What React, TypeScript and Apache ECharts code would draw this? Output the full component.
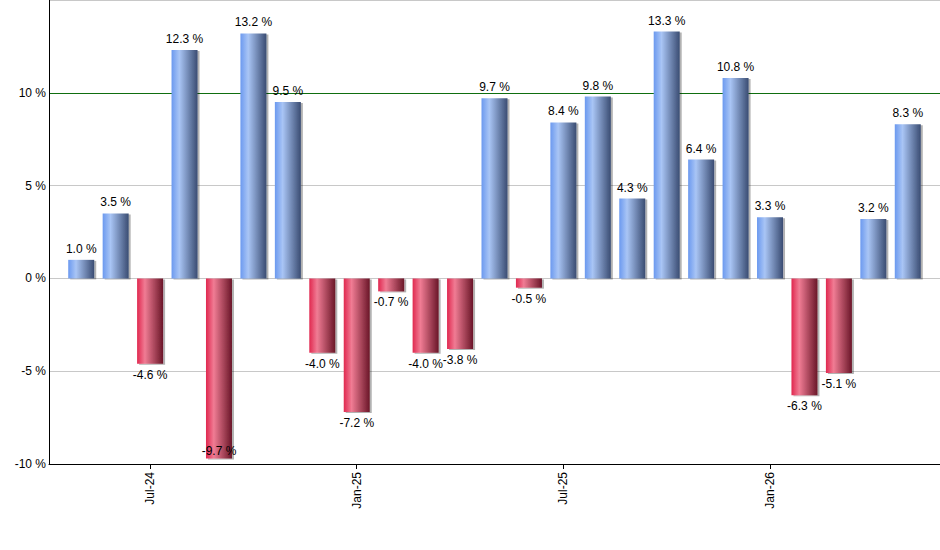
import React, { useEffect, useRef } from 'react';
import * as echarts from 'echarts';

const months = [
  'May-24', 'Jun-24', 'Jul-24', 'Aug-24', 'Sep-24', 'Oct-24', 'Nov-24', 'Dec-24',
  'Jan-25', 'Feb-25', 'Mar-25', 'Apr-25', 'May-25', 'Jun-25', 'Jul-25', 'Aug-25',
  'Sep-25', 'Oct-25', 'Nov-25', 'Dec-25', 'Jan-26', 'Feb-26', 'Mar-26', 'Apr-26', 'May-26'
];

const returns = [
  1.0, 3.5, -4.6, 12.3, -9.7, 13.2, 9.5, -4.0, -7.2, -0.7, -4.0, -3.8, 9.7,
  -0.5, 8.4, 9.8, 4.3, 13.3, 6.4, 10.8, 3.3, -6.3, -5.1, 3.2, 8.3
];

const labelledMonths = ['Jul-24', 'Jan-25', 'Jul-25', 'Jan-26'];

const yMin = -10;
const yMax = 15;
const yStep = 5;

const FONT = 'Arial, "Liberation Sans", sans-serif';

const blueGrad = new echarts.graphic.LinearGradient(0, 0, 1, 0, [
  { offset: 0, color: '#6b99ef' },
  { offset: 0.3, color: '#a9c5f5' },
  { offset: 1, color: '#3a4c72' }
]);

const redGrad = new echarts.graphic.LinearGradient(0, 0, 1, 0, [
  { offset: 0, color: '#e0284f' },
  { offset: 0.3, color: '#f07c94' },
  { offset: 1, color: '#6a1628' }
]);

export default function App() {
  const chartRef = useRef<HTMLDivElement>(null);

  useEffect(() => {
    if (!chartRef.current) return;
    const chart = echarts.init(chartRef.current, null, { renderer: 'svg' });

    const barData = returns.map((v) => {
      let position = v >= 0 ? 'top' : 'bottom';
      let distance = 5;
      if (v < 0 && v - yMin < 1) {
        position = 'insideBottom';
        distance = 1;
      }
      return {
        value: v,
        itemStyle: { color: v >= 0 ? blueGrad : redGrad },
        label: { position, distance }
      };
    });

    const option = {
      animation: false,
      backgroundColor: '#fff',
      grid: [
        { left: 49, right: 0, top: 0, bottom: 86 },
        { left: 64, right: 15, top: 0, bottom: 86 }
      ],
      xAxis: [
        {
          gridIndex: 0,
          type: 'value',
          min: 0,
          max: 1,
          axisLine: { show: true, onZero: false, lineStyle: { color: '#000', width: 1 } },
          axisTick: { show: false },
          axisLabel: { show: false },
          splitLine: { show: false }
        },
        {
          gridIndex: 1,
          type: 'category',
          data: months,
          axisLine: { show: false, onZero: false },
          axisTick: {
            show: true,
            alignWithLabel: true,
            length: 5,
            interval: (i: number, name: string) => labelledMonths.includes(name),
            lineStyle: { color: '#000' }
          },
          axisLabel: {
            rotate: 90,
            margin: 8,
            color: '#000',
            fontSize: 12,
            fontFamily: FONT,
            interval: (i: number, name: string) => labelledMonths.includes(name)
          },
          splitLine: { show: false }
        }
      ],
      yAxis: [
        {
          gridIndex: 0,
          type: 'value',
          min: yMin,
          max: yMax,
          interval: yStep,
          axisLine: { show: true, lineStyle: { color: '#000', width: 1 } },
          axisTick: { show: false },
          axisLabel: {
            color: '#000',
            fontSize: 12,
            fontFamily: FONT,
            margin: 3,
            formatter: (v: number) => (v >= yMax ? '' : `${v} %`)
          },
          splitLine: {
            show: true,
            lineStyle: {
              color: ['#c8c8c8', '#c8c8c8', '#c8c8c8', '#c8c8c8', '#0f6e0f', '#c8c8c8'],
              width: 1
            }
          }
        },
        {
          gridIndex: 1,
          type: 'value',
          min: yMin,
          max: yMax,
          interval: yStep,
          show: false
        }
      ],
      series: [
        {
          type: 'bar',
          xAxisIndex: 1,
          yAxisIndex: 1,
          barWidth: 26,
          data: barData,
          itemStyle: {
            shadowColor: 'rgba(0,0,0,0.3)',
            shadowOffsetX: 2,
            shadowOffsetY: 1,
            shadowBlur: 1
          },
          label: {
            show: true,
            color: '#000',
            fontSize: 12,
            fontFamily: FONT,
            formatter: (p: any) => `${p.value.toFixed(1)} %`
          }
        }
      ]
    };

    chart.setOption(option as any);

    const handleResize = () => chart.resize();
    window.addEventListener('resize', handleResize);
    return () => {
      window.removeEventListener('resize', handleResize);
      chart.dispose();
    };
  }, []);

  return (
    <div
      ref={chartRef}
      style={{ position: 'fixed', left: 0, top: 0, width: '940px', height: '550px', background: '#fff' }}
    />
  );
}
